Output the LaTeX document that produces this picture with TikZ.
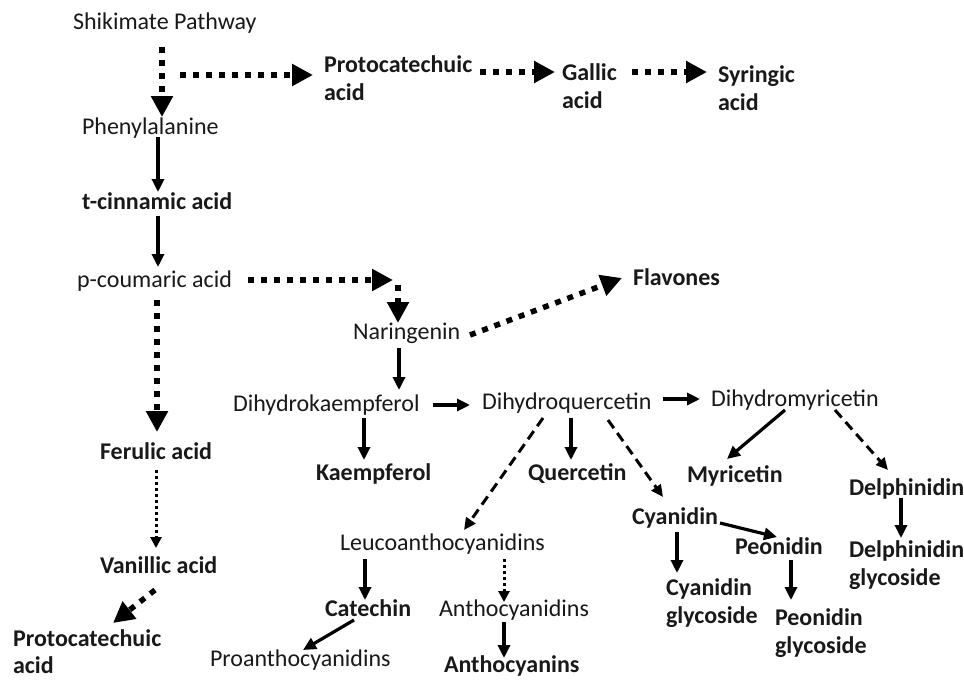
\documentclass[tikz,border=0pt]{standalone}
\usepackage{fontspec}
\setmainfont{Carlito}
\usetikzlibrary{arrows.meta,calc}
\newcommand{\twoln}[3][28.5pt]{\vtop{\baselineskip=#1\lineskiplimit=0pt\hbox{#2}\hbox{#3}}}
\tikzset{
  lbl/.style={inner sep=0pt, outer sep=0pt, anchor=base west,
    font=\fontsize{24}{28.5}\selectfont, text=black!90},
  blbl/.style={lbl, font=\fontsize{24}{28.5}\selectfont\bfseries},
  thickdot/.style={line width=5.5pt, dash pattern=on 6pt off 7pt,
    -{Triangle[length=21pt,width=21pt]}},
  sarr/.style={line width=3.2pt, -{Triangle[length=13pt,width=12pt]}},
  darr/.style={line width=3pt, dash pattern=on 10pt off 6pt, -{Triangle[length=12pt,width=11pt]}},
  tdot/.style={line width=3pt, dash pattern=on 3pt off 3pt, -{Triangle[length=11pt,width=11pt]}}
}
\begin{document}
\begin{tikzpicture}[x=1pt,y=-1pt]
\fill[white] (0,0) rectangle (964,681);
\useasboundingbox (0,0) rectangle (964,681);
% nodes
\node[lbl]  (shik) at (73,29) {Shikimate Pathway};
\node[blbl] (proto1) at (324,72) {\twoln{Protocatechuic}{acid}};
\node[blbl] (gallic) at (562,80) {\twoln{Gallic}{acid}};
\node[blbl] (syr) at (718,82) {\twoln{Syringic}{acid}};
\node[lbl]  (phe) at (82,134) {Phenylalanine};
\node[blbl] (cin) at (82,209) {t-cinnamic acid};
\node[lbl]  (cou) at (77,287) {p-coumaric acid};
\node[lbl]  (nar) at (353,339) {Naringenin};
\node[blbl] (flav) at (633,285) {Flavones};
\node[lbl]  (dk) at (233,411) {Dihydrokaempferol};
\node[lbl]  (dq) at (482,409) {Dihydroquercetin};
\node[lbl]  (dm) at (711,406) {Dihydromyricetin};
\node[blbl] (fer) at (100,459) {Ferulic acid};
\node[blbl] (kae) at (316,480) {Kaempferol};
\node[blbl] (que) at (528,480) {Quercetin};
\node[blbl] (myr) at (687,482) {Myricetin};
\node[blbl] (del) at (849,495) {Delphinidin};
\node[lbl]  (leu) at (340,550) {Leucoanthocyanidins};
\node[blbl] (cya) at (632,524) {Cyanidin};
\node[blbl] (peo) at (735,554) {Peonidin};
\node[blbl] (delg) at (849,557) {\twoln{Delphinidin}{glycoside}};
\node[blbl] (van) at (100,573) {Vanillic acid};
\node[blbl] (cat) at (325,616) {Catechin};
\node[lbl]  (ant) at (439,616) {Anthocyanidins};
\node[blbl] (cyag) at (666,595) {\twoln{Cyanidin}{glycoside}};
\node[blbl] (peog) at (775,625) {\twoln{Peonidin}{glycoside}};
\node[blbl] (proto2) at (13,646) {\twoln[27pt]{Protocatechuic}{acid}};
\node[lbl]  (pro) at (210,666) {Proanthocyanidins};
\node[blbl] (anc) at (444,672) {Anthocyanins};
\coordinate (nb) at (397,281);
% connectors
\draw[thickdot] ($(shik.base west)+(89,18)$) -- ($(phe.base west)+(80,-17)$);
\draw[thickdot] ($(shik.base west)+(107,46)$) -- ($(proto1.base west)+(-11,3)$);
\draw[thickdot] ($(proto1.base west)+(156,0)$) -- ($(gallic.base west)+(-7,-8)$);
\draw[thickdot] ($(gallic.base west)+(70,-8)$) -- ($(syr.base west)+(-11,-10)$);
\draw[sarr] ($(phe.base west)+(76,3)$) -- ($(cin.base west)+(76,-17)$);
\draw[sarr] ($(cin.base west)+(76,7)$) -- ($(cou.base west)+(81,-20)$);
\draw[thickdot] ($(cou.base west)+(80,13)$) -- ($(fer.base west)+(57,-27)$);
\draw[thickdot] ($(cou.base west)+(171,-7)$) -- ($(nb)+(-4,-1)$);
\draw[thickdot] ($(nb)+(1,4)$) -- ($(nar.base west)+(45,-16)$);
\draw[thickdot] ($(nar.base west)+(117,-4)$) -- ($(flav.base west)+(-11,-7)$);
\draw[sarr] ($(nar.base west)+(46,9)$) -- ($(dk.base west)+(166,-21)$);
\draw[sarr] ($(dk.base west)+(200,-6)$) -- ($(dq.base west)+(-12,-4)$);
\draw[sarr] ($(dq.base west)+(181,-10)$) -- ($(dm.base west)+(-11,-7)$);
\draw[sarr] ($(dk.base west)+(131,7)$) -- ($(kae.base west)+(48,-20)$);
\draw[sarr] ($(dq.base west)+(89,9)$) -- ($(que.base west)+(43,-20)$);
\draw[darr] ($(dq.base west)+(61,9)$) -- ($(leu.base west)+(124,-20)$);
\draw[darr] ($(dq.base west)+(126,11)$) -- ($(cya.base west)+(31,-27)$);
\draw[sarr] ($(dm.base west)+(74,4)$) -- ($(myr.base west)+(40,-23)$);
\draw[darr] ($(dm.base west)+(124,4)$) -- ($(del.base west)+(39,-25)$);
\draw[sarr] ($(del.base west)+(52,3)$) -- ($(delg.base west)+(52,-19)$);
\draw[sarr] ($(cya.base west)+(88,-1)$) -- ($(peo.base west)+(42,-17)$);
\draw[sarr] ($(cya.base west)+(45,8)$) -- ($(cyag.base west)+(11,-22)$);
\draw[sarr] ($(peo.base west)+(56,6)$) -- ($(peog.base west)+(16,-25)$);
\draw[tdot] ($(fer.base west)+(56,11)$) -- ($(van.base west)+(56,-25)$);
\draw[thickdot] ($(van.base west)+(55,17)$) -- ($(proto2.base west)+(100,-23)$);
\draw[sarr] ($(leu.base west)+(25,9)$) -- ($(cat.base west)+(40,-16)$);
\draw[tdot] ($(leu.base west)+(164,9)$) -- ($(ant.base west)+(65,-14)$);
\draw[sarr] ($(cat.base west)+(29,4)$) -- ($(pro.base west)+(93,-16)$);
\draw[sarr] ($(ant.base west)+(65,6)$) -- ($(anc.base west)+(60,-14)$);
\end{tikzpicture}
\end{document}
